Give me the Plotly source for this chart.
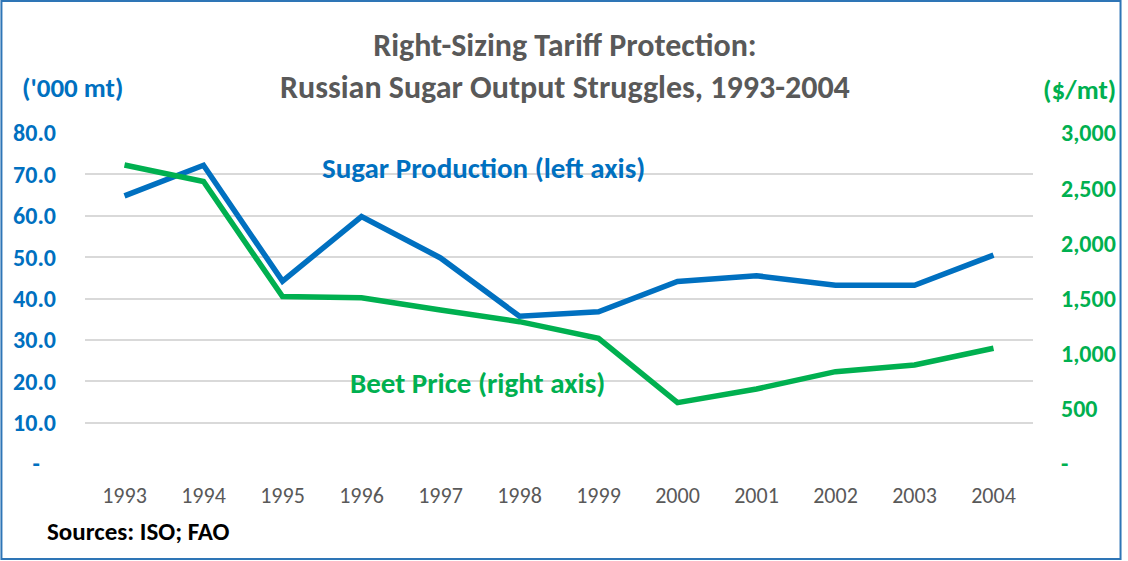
import plotly.graph_objects as go

years = ['1993', '1994', '1995', '1996', '1997', '1998',
         '1999', '2000', '2001', '2002', '2003', '2004']
sugar_production = [64.8, 72.2, 44.2, 59.8, 49.8, 35.7, 36.8, 44.1, 45.5, 43.2, 43.2, 50.5]
beet_price = [2710, 2560, 1517, 1507, 1396, 1290, 1139, 556, 680, 837, 897, 1049]

left_ticks = [0, 10, 20, 30, 40, 50, 60, 70, 80]
left_text = ['-\u00a0\u00a0\u00a0', '10.0', '20.0', '30.0', '40.0', '50.0', '60.0', '70.0', '80.0']
right_ticks = [0, 500, 1000, 1500, 2000, 2500, 3000]
right_text = ['-', '500', '1,000', '1,500', '2,000', '2,500', '3,000']

BLUE = '#0070C0'
GREEN = '#00B050'
GREY = '#595959'
FONT = 'Carlito, Lato, sans-serif'

W, H = 1128, 561
L, R, T, B = 85, 90, 133, 97
pw, ph = W - L - R, H - T - B

fig = go.Figure()
fig.add_trace(go.Scatter(x=years, y=beet_price, yaxis='y2', mode='lines',
                         line=dict(color=GREEN, width=5.5), name='Beet Price'))
fig.add_trace(go.Scatter(x=years, y=sugar_production, mode='lines',
                         line=dict(color=BLUE, width=5.5), name='Sugar Production'))


def px_x(x):
    return (x - L) / pw


def px_y(y):
    return (H - B - y) / ph


fig.update_layout(
    width=W, height=H,
    margin=dict(l=L, r=R, t=T, b=B),
    paper_bgcolor='white', plot_bgcolor='white',
    showlegend=False,
    font=dict(family=FONT),
    xaxis=dict(type='category', range=[-0.5, 11.5], showgrid=False, zeroline=False,
               showline=False, ticks='', ticklabelstandoff=16,
               tickfont=dict(size=22, color=GREY, family=FONT)),
    yaxis=dict(range=[0, 80], tickvals=left_ticks, ticktext=left_text,
               showgrid=True, gridcolor='#D9D9D9', gridwidth=2, zeroline=False,
               showline=False, ticks='', ticklabelstandoff=28,
               tickfont=dict(size=24, color=BLUE, family=FONT, weight='bold')),
    yaxis2=dict(range=[0, 3000], overlaying='y', side='right', tickvals=right_ticks,
                ticktext=right_text, showgrid=False, zeroline=False, showline=False,
                ticks='', ticklabelstandoff=27,
                tickfont=dict(size=24, color=GREEN, family=FONT, weight='bold')),
    shapes=[dict(type='rect', xref='paper', yref='paper',
                 x0=px_x(1), x1=px_x(W - 2), y0=px_y(H - 2), y1=px_y(1),
                 line=dict(color='#2E75B6', width=2), layer='below')],
)

ann = [
    dict(text='<b>Right-Sizing Tariff Protection:<br>Russian Sugar Output Struggles, 1993-2004</b>',
         x=px_x(568), y=px_y(66), font=dict(size=32, color=GREY)),
    dict(text="<b>('000 mt)</b>", x=px_x(72), y=px_y(87), font=dict(size=27, color=BLUE)),
    dict(text='<b>($/mt)</b>', x=px_x(1085), y=px_y(89), font=dict(size=27, color=GREEN)),
    dict(text='<b>Sugar Production (left axis)</b>', x=px_x(486), y=px_y(168),
         font=dict(size=29, color=BLUE)),
    dict(text='<b>Beet Price (right axis)</b>', x=px_x(480), y=px_y(383),
         font=dict(size=29, color=GREEN)),
    dict(text='<b>Sources: ISO; FAO</b>', x=px_x(45), y=px_y(531), xanchor='left',
         font=dict(size=25, color='black')),
]
for a in ann:
    a.setdefault('xanchor', 'center')
    fig.add_annotation(xref='paper', yref='paper', yanchor='middle', showarrow=False,
                       font_family=FONT, **a)

# drop the default 8px body margin so the figure sits at the page origin
fig.write_html('out.html', config={'displayModeBar': False},
               post_script="document.body.style.margin='0';")
